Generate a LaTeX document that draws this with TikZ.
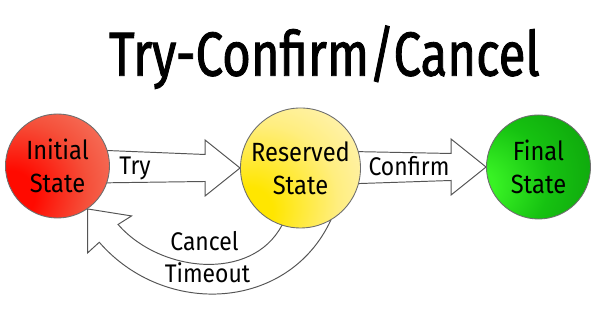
\documentclass[tikz,border=0pt]{standalone}
\usepackage{fontspec}
\setmainfont{Fira Sans}[FakeStretch=0.9]
\newfontfamily\titlefont{Fira Sans}[FakeStretch=0.79, FakeBold=1.4]
\usepackage{xcolor}
\usetikzlibrary{positioning, calc, backgrounds}
\definecolor{arrowline}{HTML}{555555}
\definecolor{ringline}{HTML}{6E6E6E}
\definecolor{redhot}{HTML}{FF0A00}
\definecolor{redmid}{HTML}{F5503A}
\definecolor{redsoft}{HTML}{F5937E}
\definecolor{yellowhot}{HTML}{FFE600}
\definecolor{yellowmid}{HTML}{FFEE80}
\definecolor{yellowsoft}{HTML}{FFF6DC}
\definecolor{greenhot}{HTML}{38F224}
\definecolor{greenmid}{HTML}{16C211}
\definecolor{greensoft}{HTML}{0A960A}
\pgfdeclareradialshading{initialglow}{\pgfpoint{-26bp}{-16bp}}{color(0bp)=(redhot); color(12bp)=(redhot); color(32bp)=(redmid); color(60bp)=(redsoft); color(100bp)=(redsoft)}
\pgfdeclareradialshading{reservedglow}{\pgfpoint{-24bp}{-20bp}}{color(0bp)=(yellowhot); color(10bp)=(yellowhot); color(32bp)=(yellowmid); color(58bp)=(yellowsoft); color(100bp)=(yellowsoft)}
\pgfdeclareradialshading{finalglow}{\pgfpoint{-32bp}{-10bp}}{color(0bp)=(greenhot); color(8bp)=(greenhot); color(28bp)=(greenmid); color(58bp)=(greensoft); color(100bp)=(greensoft)}

\begin{document}
\begin{tikzpicture}[
    statenode/.style={circle, draw=ringline, line width=0.5pt, minimum size=#1, inner sep=0pt, align=center, font=\fontsize{15}{18.6}\selectfont},
    fatarrow/.style={draw=arrowline, fill=white, line width=0.55pt, line join=miter},
    lbl/.style={anchor=base, font=\fontsize{14.5}{17}\selectfont}
]
    \useasboundingbox (0,0) rectangle (12,6.22);

    % Title
    \node[anchor=base, font=\titlefont\fontsize{35.4}{40}\selectfont] (title) at (6.49,4.706) {Try-Confirm/Cancel};

    % The three states
    \node[statenode=2.08cm, shading=initialglow] (init) at (1.15,2.90) {Initial\\State};
    \node[statenode=2.40cm, shading=reservedglow] (resv) at (6.01,2.86) {Reserved\\State};
    \node[statenode=2.08cm, shading=finalglow] (fin) at (10.77,2.88) {Final\\State};

    % Hollow arrows, kept behind the states
    \begin{scope}[on background layer]
        \fill[white] (0,0) rectangle (12,6.22);
        \draw[fatarrow] ($(init.center)+(0,0.35)$) -- ($(resv.west)+(-0.70,0.27)$) -- ++(0,0.29)
            -- (resv.west) -- ($(resv.west)+(-0.70,-0.56)$) -- ++(0,0.29) -- ($(init.center)+(0,-0.35)$) -- cycle;
        \draw[fatarrow] ($(resv.center)+(0,0.35)$) -- ($(fin.west)+(-0.70,0.27)$) -- ++(0,0.29)
            -- (fin.west) -- ($(fin.west)+(-0.70,-0.56)$) -- ++(0,0.29) -- ($(resv.center)+(0,-0.35)$) -- cycle;
        \draw[fatarrow] (resv.-108) to[out=-118, in=-49] ($(init.-55)+(0.61,-0.31)$) -- ++(0.27,0.17)
            -- (init.-55) -- ++(0,-0.88) -- ++(0.234,0.214) to[out=-49, in=-115, looseness=1.1] (resv.-60) -- cycle;
    \end{scope}

    % Labels on the arrows
    \node[lbl] (trylbl) at (2.70,2.72) {Try};
    \node[lbl] (confirmlbl) at (8.18,2.70) {Confirm};
    \node[lbl] (cancellbl) at (4.09,1.206) {Cancel};
    \node[lbl] (timeoutlbl) at (4.15,0.574) {Timeout};
\end{tikzpicture}
\end{document}
